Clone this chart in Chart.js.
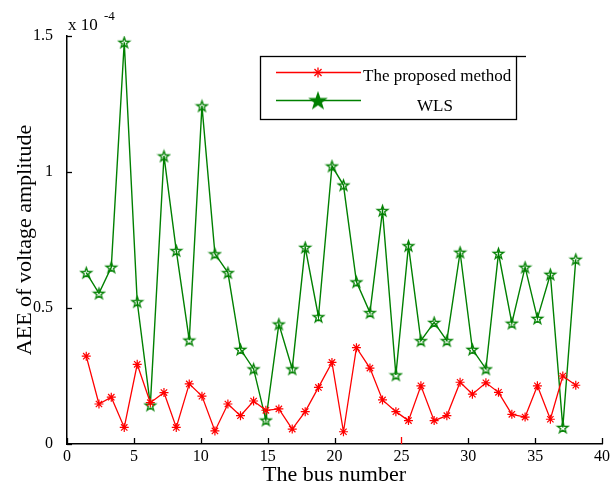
<!DOCTYPE html>
<html>
<head>
<meta charset="utf-8">
<script src="https://cdn.jsdelivr.net/npm/chart.js@4.4.1/dist/chart.umd.min.js"></script>
<style>
  html, body { margin: 0; padding: 0; background: #fff; }
</style>
</head>
<body>
<canvas id="myChart" width="613" height="488"></canvas>
<script>
// bus positions as plotted
const busX = [1.44, 2.39, 3.31, 4.28, 5.25, 6.23, 7.25, 8.17, 9.14, 10.09, 11.06, 12.03, 12.97, 13.95, 14.87,
  15.84, 16.84, 17.81, 18.80, 19.81, 20.67, 21.64, 22.65, 23.59, 24.59, 25.53, 26.46, 27.45, 28.40, 29.39,
  30.31, 31.32, 32.26, 33.26, 34.25, 35.17, 36.14, 37.07, 38.04]
// AEE values, x 10^-4
const proposed = [0.323, 0.147, 0.172, 0.061, 0.293, 0.152, 0.189, 0.061, 0.221, 0.176, 0.048, 0.147, 0.104,
  0.158, 0.124, 0.129, 0.055, 0.119, 0.208, 0.300, 0.045, 0.354, 0.279, 0.162, 0.119, 0.086, 0.214, 0.086,
  0.104, 0.227, 0.183, 0.225, 0.190, 0.109, 0.099, 0.214, 0.091, 0.250, 0.216]
const wls = [0.630, 0.554, 0.650, 1.477, 0.523, 0.143, 1.059, 0.711, 0.382, 1.243, 0.699, 0.630, 0.348,
  0.276, 0.088, 0.441, 0.276, 0.723, 0.468, 1.022, 0.952, 0.596, 0.483, 0.858, 0.254, 0.729, 0.380, 0.447,
  0.380, 0.705, 0.348, 0.276, 0.701, 0.444, 0.650, 0.462, 0.624, 0.061, 0.679]
const xTicks = [0, 5, 10, 15, 20, 25, 30, 35, 40]
const yTicks = [0, 0.5, 1, 1.5]
const seriesNames = ['The proposed method', 'WLS']

const SERIF = '"Liberation Serif", "Times New Roman", serif'
const RED = '#ff0000'
const GREEN = '#008000'

// pentagram marker (MATLAB style 'p')
const makeStar = (size, r, color, filled, lw) => {
  const c = document.createElement('canvas')
  c.width = size; c.height = size
  const g = c.getContext('2d')
  const cx = size / 2, cy = size / 2 + r * 0.1
  g.beginPath()
  for (let i = 0; i < 10; i++) {
    const a = -Math.PI / 2 + i * Math.PI / 5
    const rr = i % 2 ? r * 0.4 : r
    g.lineTo(cx + rr * Math.cos(a), cy + rr * Math.sin(a))
  }
  g.closePath()
  g.lineWidth = lw
  g.strokeStyle = color
  if (filled) { g.fillStyle = color; g.fill() }
  g.stroke()
  return c
}
const starMarker = makeStar(15, 5.6, GREEN, false, 1.3)

const toPoints = (ys) => ys.map((v, i) => ({x: busX[i], y: v}))

const line = (ctx, x1, y1, x2, y2) => {
  ctx.beginPath(); ctx.moveTo(x1, y1); ctx.lineTo(x2, y2); ctx.stroke()
}

// inward tick marks like the matlab figure
const innerTicks = {
  id: 'innerTicks',
  afterDraw(chart) {
    const {ctx, scales: {x, y}, chartArea: a} = chart
    ctx.save()
    ctx.lineWidth = 1.3
    xTicks.forEach(v => {
      const px = Math.round(x.getPixelForValue(v)) + 0.5
      ctx.strokeStyle = v === 25 ? RED : '#000'
      line(ctx, px, a.bottom, px, a.bottom - (v === 25 ? 7 : 6))
    })
    ctx.strokeStyle = '#000'
    yTicks.forEach(v => {
      const py = Math.round(y.getPixelForValue(v)) + 0.5
      line(ctx, a.left, py, a.left + 5, py)
    })
    // exponent label
    ctx.fillStyle = '#000'
    ctx.textBaseline = 'alphabetic'
    ctx.font = '17px ' + SERIF
    ctx.fillText('x 10', a.left + 1, 30)
    ctx.font = '13px ' + SERIF
    ctx.fillText('-4', a.left + 37, 20)
    ctx.restore()
  }
}

// boxed legend inside the axes
const boxLegend = {
  id: 'boxLegend',
  afterDraw(chart) {
    const ctx = chart.ctx
    ctx.save()
    ctx.strokeStyle = '#000'
    ctx.lineWidth = 1.3
    ctx.strokeRect(260.5, 56.5, 256, 63)
    line(ctx, 516, 56.5, 526, 56.5)

    ctx.lineWidth = 1.3
    ctx.strokeStyle = RED
    line(ctx, 276, 72.5, 361, 72.5)
    const r = 5
    for (let k = 0; k < 4; k++) {
      const a = k * Math.PI / 4
      line(ctx, 318 - r * Math.cos(a), 72.5 - r * Math.sin(a), 318 + r * Math.cos(a), 72.5 + r * Math.sin(a))
    }
    ctx.strokeStyle = GREEN
    ctx.lineWidth = 1.5
    line(ctx, 276, 100.5, 361, 100.5)
    const big = makeStar(20, 8, GREEN, true, 1.5)
    ctx.drawImage(big, 318 - 10, 100.5 - 10)

    ctx.fillStyle = '#000'
    ctx.font = '17px ' + SERIF
    ctx.textBaseline = 'alphabetic'
    ctx.fillText(seriesNames[0], 363, 80.5)
    ctx.fillText(seriesNames[1], 417, 110.5)
    ctx.restore()
  }
}

const chartLoader = (link) => {
  const data = {
    datasets: [{
      label: seriesNames[0],
      data: toPoints(proposed),
      borderColor: RED,
      backgroundColor: RED,
      borderWidth: 1.3,
      pointStyle: 'star',
      pointRadius: 4.5,
      pointBorderWidth: 1.2,
      pointBorderColor: RED,
      tension: 0,
      fill: false,
    }, {
      label: seriesNames[1],
      data: toPoints(wls),
      borderColor: GREEN,
      backgroundColor: GREEN,
      borderWidth: 1.4,
      pointStyle: starMarker,
      pointRadius: 5,
      tension: 0,
      fill: false,
    }]
  }
  const config = {
    type: 'line',
    data: data,
    options: {
      responsive: false,
      animation: false,
      layout: { padding: { top: 36, right: 11, left: 0, bottom: 0 } },
      plugins: {
        legend: { display: false },
        tooltip: { enabled: false },
      },
      scales: {
        x: {
          type: 'linear',
          min: 0, max: 40,
          afterFit: (s) => { s.height = 44 },
          grid: { display: false, drawTicks: false },
          border: { display: true, color: '#000', width: 1.5 },
          ticks: {
            stepSize: 5,
            padding: 3,
            color: '#000',
            font: { family: SERIF, size: 16 },
            maxRotation: 0,
          },
          title: {
            display: true,
            text: 'The bus number',
            color: '#000',
            font: { family: SERIF, size: 22 },
            padding: { top: 0, bottom: 0 },
          }
        },
        y: {
          min: 0, max: 1.5,
          afterFit: (s) => { s.width = 67 },
          grid: { display: false, drawTicks: false },
          border: { display: true, color: '#000', width: 1.5 },
          ticks: {
            stepSize: 0.5,
            padding: 14,
            color: '#000',
            font: { family: SERIF, size: 16 },
            callback: (v) => String(v),
          },
          title: {
            display: true,
            text: 'AEE of voltage amplitude',
            color: '#000',
            font: { family: SERIF, size: 22 },
            padding: { top: 12, bottom: 0 },
          }
        }
      }
    },
    plugins: [innerTicks, boxLegend]
  }
  return new Chart(link, config)
}

const chrt = document.getElementById('myChart').getContext('2d')
chartLoader(chrt)
</script>
</body>
</html>
